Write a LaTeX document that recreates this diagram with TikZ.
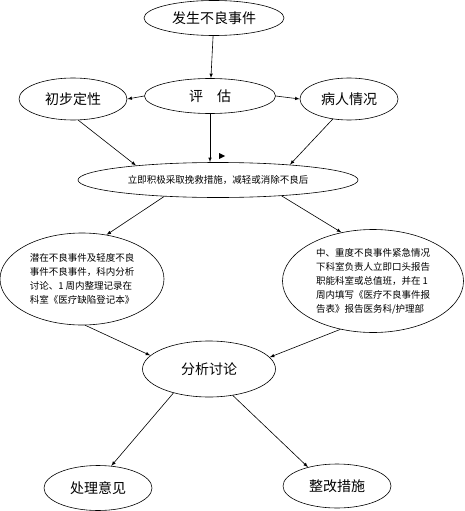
\documentclass[tikz,border=0pt]{standalone}
\usepackage{fontspec}
\setmainfont{Noto Sans CJK SC}
\usepackage{tikz}
\usetikzlibrary{arrows,shapes.geometric,calc}

\tikzset{
  oval/.style={draw,ellipse,inner sep=0pt,line width=0.6pt,
    font=\fontsize{14}{16}\selectfont},
  smalltext/.style={font=\fontsize{9.5}{14}\selectfont,align=left}
}

\begin{document}
\begin{tikzpicture}[x=1pt,y=-1pt,>=latex]
    \useasboundingbox (0,0) rectangle (465,511);
    \node[oval,minimum width=140,minimum height=35] (fasheng) at (214,18) {发生不良事件};
    \node[oval,minimum width=131,minimum height=35] (pinggu) at (210,96) {评\quad 估};
    \node[oval,minimum width=108,minimum height=42] (chubu) at (73,99) {初步定性};
    \node[oval,minimum width=98,minimum height=42] (bingren) at (349,99) {病人情况};
    \node[oval,smalltext,minimum width=280,minimum height=35] (liji) at (218,180)
      {立即积极采取挽救措施，减轻或消除不良后};
    \node[oval,smalltext,minimum width=164,minimum height=92] (qingdu) at (82,279)
      {潜在不良事件及轻度不良\\事件不良事件，科内分析\\讨论、1 周内整理记录在\\科室《医疗缺陷登记本》};
    \node[oval,smalltext,minimum width=181,minimum height=103] (zhongdu) at (373,281)
      {中、重度不良事件紧急情况\\下科室负责人立即口头报告\\职能科室或总值班，并在 1\\周内填写《医疗不良事件报\\告表》报告医务科/护理部};
    \node[oval,minimum width=133,minimum height=56] (fenxi) at (209,369) {分析讨论};
    \node[oval,minimum width=108,minimum height=45] (chuli) at (98,488) {处理意见};
    \node[oval,minimum width=108,minimum height=44] (zhenggai) at (337,486) {整改措施};
    \path[->,line width=0.6pt]
      (fasheng) edge (pinggu)
      (pinggu.west) edge (chubu.east)
      (pinggu.east) edge (bingren.west)
      (chubu.-76) edge (liji.170)
      (pinggu.south) edge (pinggu.south |- liji.north)
      (bingren.-129) edge (liji.12)
      (liji.-163) edge (qingdu.61)
      (liji.-14) edge (zhongdu.123)
      (qingdu.-86) edge (fenxi.167)
      (zhongdu.-124) edge (fenxi.11)
      (fenxi.-146) edge (chuli.59)
      (fenxi.-48) edge (zhenggai.147);
    % stray tip
    \fill (219,153) -- (225,156) -- (219,159) -- cycle;
\end{tikzpicture}
\end{document}
